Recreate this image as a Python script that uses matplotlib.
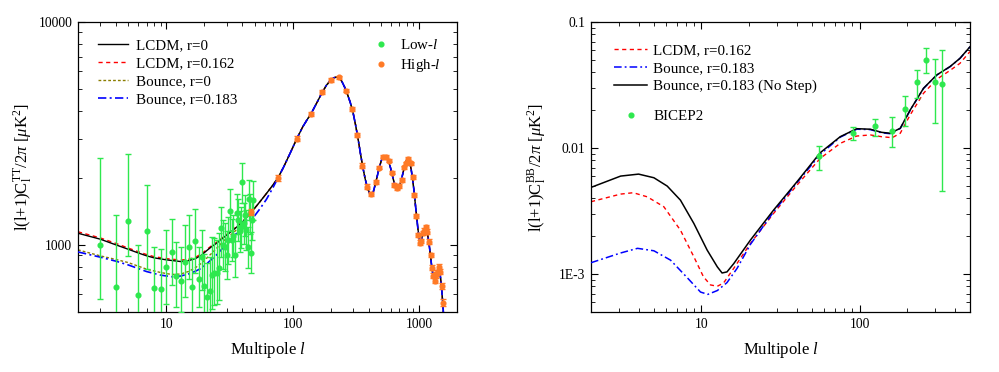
import matplotlib
matplotlib.use("Agg")
import matplotlib.pyplot as plt
from matplotlib.ticker import LogLocator, NullFormatter, FixedLocator, FixedFormatter
from matplotlib.lines import Line2D

plt.rcParams['font.family'] = ['Liberation Serif', 'DejaVu Serif']
plt.rcParams['mathtext.fontset'] = 'custom'
plt.rcParams['mathtext.rm'] = 'Liberation Serif'
plt.rcParams['mathtext.it'] = 'Liberation Serif:italic'
plt.rcParams['mathtext.bf'] = 'Liberation Serif:bold'

# ---------------- TT panel data ----------------
lowl_l = [3, 4, 5, 6, 7, 8, 9, 10, 11, 12, 13, 14, 15, 16, 17, 18, 19, 20, 21, 22, 23, 24, 25, 26,
          27, 28, 29, 30, 31, 32, 33, 34, 35, 36, 37, 38, 39, 40, 41, 42, 43, 44, 45, 46, 47, 48, 49]
lowl_val = [1000, 646, 1281, 598, 1159, 640, 637, 797, 930, 728, 692, 839, 979, 644, 1039, 702, 886,
            655, 583, 618, 736, 747, 751, 786, 1188, 1000, 977, 902, 1050, 1426, 1053, 1100, 902,
            1387, 1295, 1150, 1200, 1924, 1250, 1359, 1168, 976, 1603, 1387, 924, 1300, 1582]
lowl_lo = [573, 330, 893, 330, 780, 400, 420, 544, 662, 528, 502, 586, 704, 470, 751, 528, 628,
           480, 440, 450, 515, 540, 545, 567, 886, 780, 760, 700, 820, 1159, 850, 880, 720,
           1120, 1040, 930, 970, 1540, 1010, 1100, 950, 790, 1300, 1120, 750, 1050, 1290]
lowl_hi = [2450, 1359, 2551, 997, 1853, 983, 963, 1164, 1304, 1031, 976, 1225, 1359, 871, 1455, 983,
           1164, 908, 828, 887, 1089, 1071, 1050, 1128, 1485, 1290, 1250, 1160, 1340, 1782, 1310,
           1360, 1120, 1700, 1600, 1420, 1480, 2339, 1540, 1680, 1440, 1200, 1950, 1700, 1140,
           1600, 1930]

highl_l = [47, 77, 108, 140, 171, 203, 234, 265, 296, 325, 357, 389, 419, 453, 484, 521, 547, 578,
           607, 637, 673, 693, 733, 765, 789, 818, 859, 891, 918, 946, 988, 1019, 1044, 1069, 1102,
           1130, 1158, 1208, 1238, 1268, 1300, 1333, 1365, 1398, 1432, 1467, 1515, 1542]
highl_val = [1400, 2005, 2999, 3865, 4842, 5496, 5650, 4920, 4085, 3112, 2270, 1828, 1687, 1910,
             2223, 2490, 2480, 2388, 2110, 1858, 1795, 1840, 1955, 2230, 2324, 2439, 2324, 2018,
             1675, 1349, 1109, 1024, 1042, 1128, 1159, 1200, 1147, 1035, 902, 791, 728, 692, 734,
             751, 800, 759, 655, 551]
highl_err = [45, 60, 80, 90, 100, 100, 100, 90, 80, 65, 50, 40, 35, 38, 42, 45, 45, 44, 40, 36,
             34, 34, 36, 40, 42, 44, 42, 38, 34, 30, 26, 24, 24, 25, 26, 27, 26, 24, 22, 20, 19,
             19, 20, 21, 22, 21, 20, 19]

# theory curves: shared high-l part (l >= 50) and model-specific low-l parts
tt_high_l = [50, 55, 62, 70, 77, 85, 95, 108, 120, 130, 140, 155, 171, 185, 200, 212, 222, 232, 245,
             258, 270, 285, 300, 315, 330, 345, 360, 375, 390, 405, 420, 435, 450, 467, 485, 503,
             520, 535, 550, 565, 580, 595, 610, 625, 640, 655, 672, 690, 710, 730, 750, 770, 790,
             808, 822, 838, 855, 872, 890, 908, 925, 942, 960, 978, 995, 1012, 1030, 1050, 1070,
             1090, 1110, 1130, 1150, 1170, 1190, 1210, 1235, 1260, 1285, 1310, 1335, 1360, 1385,
             1410, 1435, 1460, 1485, 1510, 1535, 1560, 1590]
tt_high_val = [1460, 1560, 1700, 1860, 2010, 2240, 2560, 3000, 3380, 3640, 3880, 4330, 4820, 5200,
               5480, 5620, 5660, 5620, 5420, 5100, 4780, 4380, 3950, 3450, 2980, 2550, 2220, 1980,
               1810, 1710, 1680, 1730, 1860, 2030, 2220, 2390, 2480, 2500, 2470, 2410, 2330, 2220,
               2100, 1980, 1880, 1815, 1790, 1810, 1880, 1990, 2120, 2260, 2370, 2420, 2425, 2380,
               2280, 2140, 1980, 1800, 1630, 1470, 1330, 1200, 1110, 1050, 1040, 1065, 1110, 1155,
               1185, 1190, 1165, 1115, 1050, 980, 890, 805, 745, 710, 700, 715, 745, 775, 785, 760,
               705, 640, 570, 500, 430]

lcdm0_low_l = [2, 3, 4, 5, 6, 7, 8, 10, 13, 15, 17, 19, 21, 23, 25, 29, 34, 40, 45]
lcdm0_low_val = [1128, 1061, 1000, 956, 920, 893, 875, 857, 842, 850, 868, 900, 945, 985, 1017,
                 1089, 1168, 1265, 1370]
lcdm162_low_l = [2, 3, 4, 5, 6, 7, 8, 10, 13, 15, 17, 19, 21, 23, 25, 29, 34, 40, 45]
lcdm162_low_val = [1145, 1075, 1015, 968, 932, 905, 886, 868, 855, 862, 880, 912, 955, 995, 1027,
                   1097, 1175, 1270, 1372]
bounce0_low_l = [2, 3, 4, 5, 7, 9, 11, 13, 15, 17, 19, 21, 23, 25, 29, 34, 40, 45]
bounce0_low_val = [950, 893, 860, 833, 778, 752, 737, 740, 760, 790, 828, 875, 920, 966, 1053,
                   1135, 1238, 1360]
bounce183_low_l = [2, 3, 4, 5, 7, 9, 11, 13, 15, 17, 19, 21, 23, 25, 29, 34, 40, 45, 50, 55, 62, 70]
bounce183_low_val = [930, 881, 845, 813, 759, 732, 720, 725, 741, 762, 786, 825, 865, 902, 990,
                     1089, 1200, 1330, 1350, 1450, 1600, 1810]

# ---------------- BB panel data ----------------
bb_nostep_l = [2, 3.08, 4, 5, 6.07, 7.36, 8.95, 10.86, 12.6, 13.5, 14.5, 16, 20.4, 28.6, 40.2,
               56.4, 75.5, 96, 117, 138, 156, 181, 209, 254, 308, 374, 432, 500]
bb_nostep_val = [0.00487, 0.00599, 0.00621, 0.00581, 0.00499, 0.00386, 0.00252, 0.00155, 0.00114,
                 0.00102, 0.00104, 0.00121, 0.00186, 0.00322, 0.00540, 0.00918, 0.0123, 0.01424,
                 0.0141, 0.01332, 0.0131, 0.01434, 0.0200, 0.0298, 0.0380, 0.0443, 0.0515, 0.0636]
bb_lcdm_l = [2, 3.08, 3.7, 4.54, 5.78, 7.36, 8.95, 10.3, 11.4, 12.6, 13.8, 16, 20.4, 28.6, 40.2,
             56.4, 75.5, 96, 117, 138, 161, 181, 209, 254, 308, 374, 432, 500]
bb_lcdm_val = [0.00375, 0.00431, 0.00442, 0.00410, 0.00342, 0.00223, 0.00137, 0.00095, 0.00082,
               0.00080, 0.00085, 0.00111, 0.00175, 0.00303, 0.00508, 0.00828, 0.01089, 0.01245,
               0.0127, 0.0123, 0.01208, 0.0131, 0.01829, 0.0272, 0.0351, 0.0413, 0.0470, 0.0583]
bb_bounce_l = [2, 3.08, 3.94, 5, 6.37, 8.1, 9.86, 10.97, 12.6, 14.5, 16.8, 20.4, 28.6, 40.2, 56.4,
               75.5, 96, 117, 138, 156, 181, 209, 254, 308, 374, 432, 500]
bb_bounce_val = [0.00123, 0.00147, 0.00160, 0.00153, 0.00129, 0.00094, 0.00072, 0.00069, 0.00074,
                 0.000855, 0.00111, 0.00172, 0.00312, 0.00531, 0.00890, 0.0122, 0.0141, 0.0140,
                 0.0132, 0.0130, 0.0143, 0.0199, 0.0297, 0.0379, 0.0442, 0.0514, 0.0635]

bicep_l = [55.3, 90.8, 126, 161.5, 195, 230, 265, 302, 334]
bicep_val = [0.00863, 0.01316, 0.01486, 0.01373, 0.0204, 0.0335, 0.0500, 0.0335, 0.0325]
bicep_lo = [0.00665, 0.01150, 0.0124, 0.01012, 0.0149, 0.0251, 0.0392, 0.0159, 0.00458]
bicep_hi = [0.0104, 0.01477, 0.0171, 0.01752, 0.0260, 0.0415, 0.0617, 0.0507, 0.0597]

GREEN = '#2ee84e'
ORANGE = '#ff7a26'
OLIVE = '#8a7d00'
MS = 3.4
FS_LEG = 10.8
FS_LAB = 12

fig = plt.figure(figsize=(9.99, 3.72), dpi=100)
ax1 = fig.add_axes([78 / 999, 60 / 372, 379 / 999, 290 / 372])
ax2 = fig.add_axes([591 / 999, 60 / 372, 379 / 999, 290 / 372])


def style_axis(ax):
    ax.tick_params(which='both', direction='in', top=True, right=True, labelsize=9.8)
    ax.tick_params(which='major', length=5, width=0.8, pad=4)
    ax.tick_params(which='minor', length=2.8, width=0.6)
    for s in ax.spines.values():
        s.set_linewidth(0.9)


def join(low_l, low_v, high_l, high_v):
    ls = list(low_l) + [l for l in high_l if l > low_l[-1]]
    vs = list(low_v) + [v for l, v in zip(high_l, high_v) if l > low_l[-1]]
    return ls, vs


# ---- left panel
l, v = join(lcdm0_low_l, lcdm0_low_val, tt_high_l, tt_high_val)
ax1.plot(l, v, color='black', lw=1.0, label='LCDM, r=0', zorder=3)
l, v = join(lcdm162_low_l, lcdm162_low_val, tt_high_l, tt_high_val)
ax1.plot(l, v, color='red', lw=1.0, ls=(0, (3, 2.5)), label='LCDM, r=0.162', zorder=2)
l, v = join(bounce0_low_l, bounce0_low_val, tt_high_l, tt_high_val)
ax1.plot(l, v, color=OLIVE, lw=1.0, ls=(0, (2, 1.5)), label='Bounce, r=0', zorder=2)
l, v = join(bounce183_low_l, bounce183_low_val, tt_high_l, tt_high_val)
ax1.plot(l, v, color='blue', lw=1.2, ls=(0, (5, 2, 1.2, 2)), label='Bounce, r=0.183', zorder=4)

yerr_low = [[v - lo for v, lo in zip(lowl_val, lowl_lo)], [hi - v for v, hi in zip(lowl_val, lowl_hi)]]
ax1.errorbar(lowl_l, lowl_val, yerr=yerr_low, fmt='o', color=GREEN, ms=MS, elinewidth=1.0,
             capsize=2.2, capthick=1.0, zorder=5)
ax1.errorbar(highl_l, highl_val, yerr=highl_err, fmt='o', color=ORANGE, ms=MS, elinewidth=1.0,
             capsize=2.2, capthick=1.0, zorder=6)

ax1.set_xscale('log')
ax1.set_yscale('log')
ax1.set_xlim(2, 2000)
ax1.set_ylim(500, 10000)
ax1.yaxis.set_major_locator(FixedLocator([1000, 10000]))
ax1.yaxis.set_major_formatter(FixedFormatter(['1000', '10000']))
ax1.yaxis.set_minor_locator(LogLocator(base=10, subs=range(2, 10), numticks=20))
ax1.yaxis.set_minor_formatter(NullFormatter())
ax1.xaxis.set_major_locator(FixedLocator([10, 100, 1000]))
ax1.xaxis.set_major_formatter(FixedFormatter(['10', '100', '1000']))
ax1.xaxis.set_minor_locator(LogLocator(base=10, subs=range(2, 10), numticks=20))
ax1.xaxis.set_minor_formatter(NullFormatter())
style_axis(ax1)
ax1.set_xlabel('Multipole $\\mathit{l}$', fontsize=FS_LAB, labelpad=7)
ax1.set_ylabel('l(l+1)C$_\\mathrm{l}^{\\mathrm{TT}}$/2$\\pi$ [$\\mu$K$^2$]', fontsize=FS_LAB, labelpad=3)

leg1 = ax1.legend(loc='upper left', bbox_to_anchor=(0.03, 0.975), frameon=False, fontsize=FS_LEG,
                  handlelength=2.0, handletextpad=0.5, labelspacing=0.3, borderaxespad=0.2)
ax1.add_artist(leg1)
h_low = Line2D([], [], marker='o', ls='none', color=GREEN, ms=MS)
h_high = Line2D([], [], marker='o', ls='none', color=ORANGE, ms=MS)
ax1.legend([h_low, h_high], ['Low-$\\mathit{l}$', 'High-$\\mathit{l}$'], loc='upper left',
           bbox_to_anchor=(0.755, 0.975), frameon=False, fontsize=FS_LEG, handlelength=1.0,
           handletextpad=0.8, labelspacing=0.3, borderaxespad=0.2)

# ---- right panel
ax2.plot(bb_lcdm_l, bb_lcdm_val, color='red', lw=1.0, ls=(0, (3, 2.5)), label='LCDM, r=0.162', zorder=2)
ax2.plot(bb_bounce_l, bb_bounce_val, color='blue', lw=1.1, ls=(0, (5, 2, 1.2, 2)),
         label='Bounce, r=0.183', zorder=3)
ax2.plot(bb_nostep_l, bb_nostep_val, color='black', lw=1.1, label='Bounce, r=0.183 (No Step)', zorder=4)
yerr_b = [[v - lo for v, lo in zip(bicep_val, bicep_lo)], [hi - v for v, hi in zip(bicep_val, bicep_hi)]]
ax2.errorbar(bicep_l, bicep_val, yerr=yerr_b, fmt='o', color=GREEN, ms=MS, elinewidth=1.0,
             capsize=2.5, capthick=1.0, zorder=5)

ax2.set_xscale('log')
ax2.set_yscale('log')
ax2.set_xlim(2, 500)
ax2.set_ylim(5e-4, 0.1)
ax2.yaxis.set_major_locator(FixedLocator([1e-3, 1e-2, 1e-1]))
ax2.yaxis.set_major_formatter(FixedFormatter(['1E-3', '0.01', '0.1']))
ax2.yaxis.set_minor_locator(LogLocator(base=10, subs=range(2, 10), numticks=20))
ax2.yaxis.set_minor_formatter(NullFormatter())
ax2.xaxis.set_major_locator(FixedLocator([10, 100]))
ax2.xaxis.set_major_formatter(FixedFormatter(['10', '100']))
ax2.xaxis.set_minor_locator(LogLocator(base=10, subs=range(2, 10), numticks=20))
ax2.xaxis.set_minor_formatter(NullFormatter())
style_axis(ax2)
ax2.set_xlabel('Multipole $\\mathit{l}$', fontsize=FS_LAB, labelpad=7)
ax2.set_ylabel('l(l+1)C$_\\mathrm{l}^{\\mathrm{BB}}$/2$\\pi$ [$\\mu$K$^2$]', fontsize=FS_LAB, labelpad=8)

leg2 = ax2.legend(loc='upper left', bbox_to_anchor=(0.037, 0.957), frameon=False, fontsize=FS_LEG,
                  handlelength=2.2, handletextpad=0.4, labelspacing=0.3, borderaxespad=0.2)
ax2.add_artist(leg2)
h_b = Line2D([], [], marker='o', ls='none', color=GREEN, ms=MS)
ax2.legend([h_b], ['BICEP2'], loc='upper left', bbox_to_anchor=(0.037, 0.73), frameon=False,
           fontsize=FS_LEG, handlelength=2.2, handletextpad=0.4, borderaxespad=0.2)

fig.savefig('out.png', dpi=100)
